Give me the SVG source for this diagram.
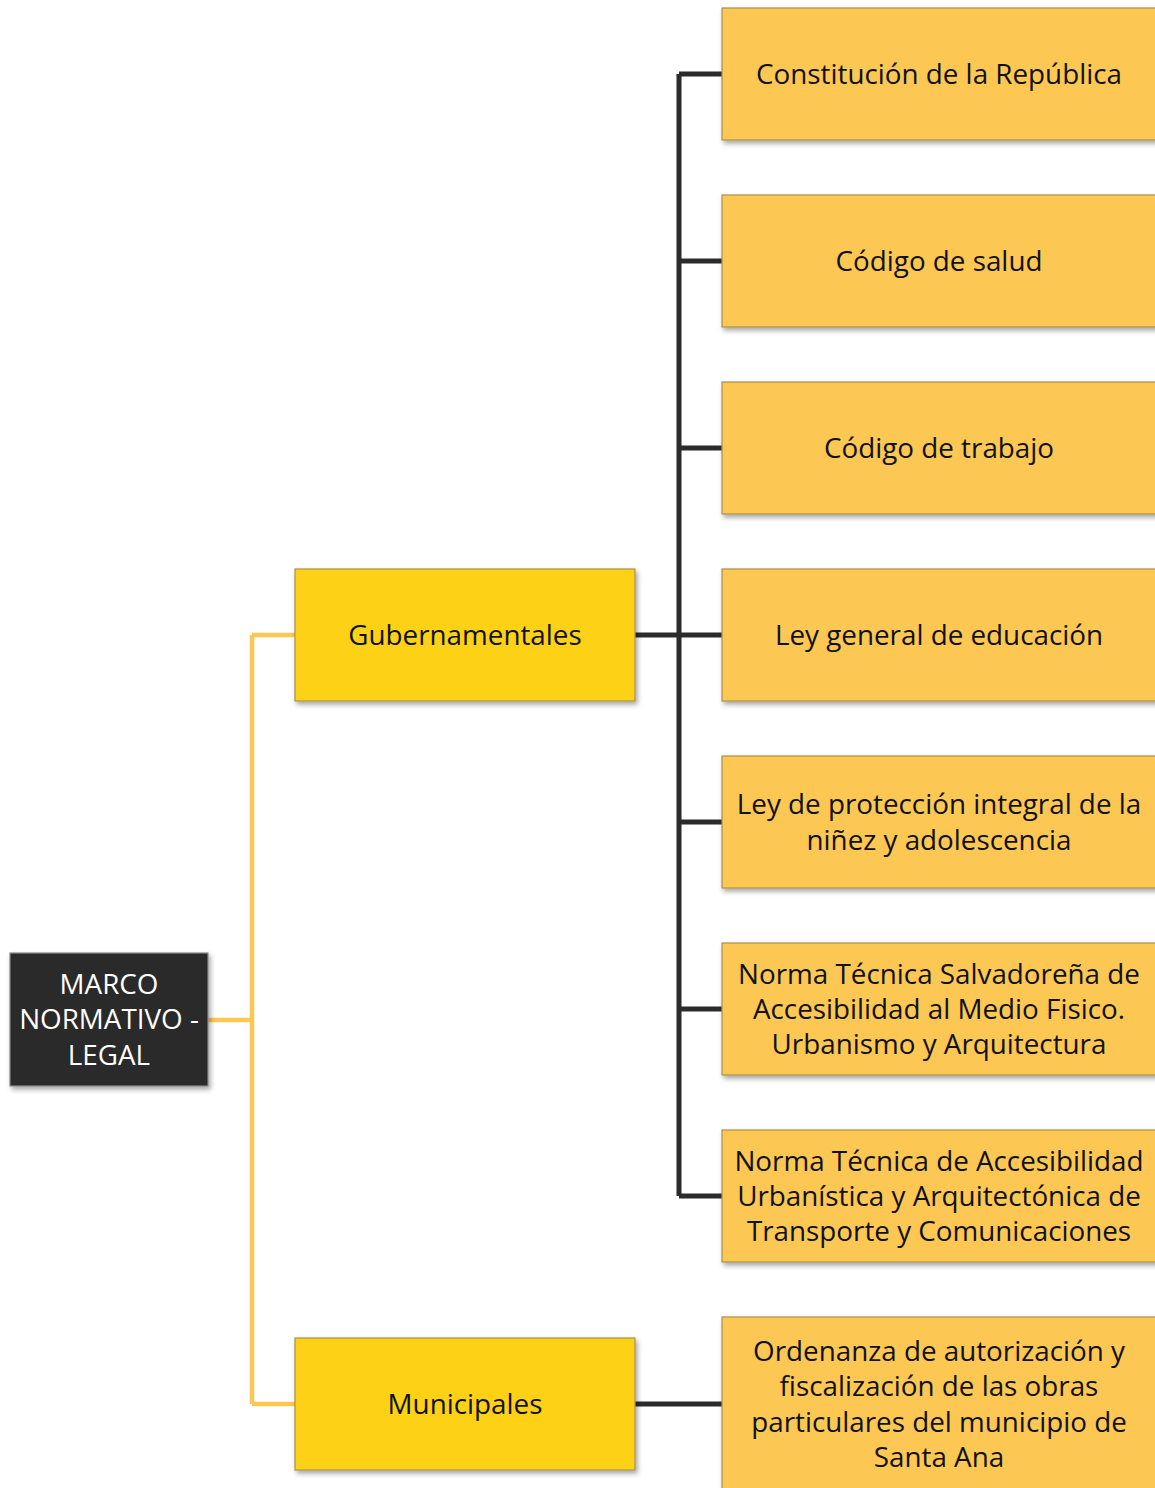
<svg xmlns="http://www.w3.org/2000/svg" width="1155" height="1488" viewBox="0 0 1155 1488">
<defs>
<filter id="sh" x="-10%" y="-10%" width="130%" height="130%">
<feDropShadow dx="2" dy="3" stdDeviation="2.5" flood-color="#000" flood-opacity="0.35"/>
</filter>
<style>
.leaf{fill:#fcc753;stroke:#a8914e;stroke-width:1.2;filter:url(#sh)}
.mid{fill:#fdd116;stroke:#a8914e;stroke-width:1.2;filter:url(#sh)}
.root{fill:#2b2b2b;stroke:#888;stroke-width:1.2;filter:url(#sh)}
text{font-family:"Open Sans","Noto Sans",sans-serif;font-size:27.8px;text-anchor:middle;fill:#111}
.rt{fill:#fff}
.yl{fill:none;stroke:#fcc752;stroke-width:4.5}
.dk{fill:none;stroke:#2b2b2b;stroke-width:5}
</style>
</defs>
<g id="connectors">
<path class="yl" d="M208 1020 H252 M252 635 V1404 M252 635 H295 M252 1404 H295"/>
<path class="dk" d="M635 635 H722 M679 74 V1196 M679 74 H722 M679 261 H722 M679 448 H722 M679 822 H722 M679 1009 H722 M679 1196 H722 M635 1404 H722"/>
</g>
<g id="root">
<rect class="root" x="10" y="953" width="198" height="133"/>
<text class="rt" x="109" y="994">MARCO</text>
<text class="rt" x="109" y="1029">NORMATIVO -</text>
<text class="rt" x="109" y="1065">LEGAL</text>
</g>
<g id="gubernamentales">
<rect class="mid" x="295" y="569" width="340" height="132"/>
<text x="465" y="645">Gubernamentales</text>
</g>
<g id="municipales">
<rect class="mid" x="295" y="1338" width="340" height="132"/>
<text x="465" y="1414">Municipales</text>
</g>
<g id="constitucion">
<rect class="leaf" x="722" y="8" width="440" height="132"/>
<text x="939" y="84">Constitución de la República</text>
</g>
<g id="codigo-salud">
<rect class="leaf" x="722" y="195" width="440" height="132"/>
<text x="939" y="271">Código de salud</text>
</g>
<g id="codigo-trabajo">
<rect class="leaf" x="722" y="382" width="440" height="132"/>
<text x="939" y="458">Código de trabajo</text>
</g>
<g id="ley-educacion">
<rect class="leaf" x="722" y="569" width="440" height="132"/>
<text x="939" y="645">Ley general de educación</text>
</g>
<g id="ley-ninez">
<rect class="leaf" x="722" y="756" width="440" height="132"/>
<text x="939" y="814">Ley de protección integral de la</text>
<text x="939" y="850">niñez y adolescencia</text>
</g>
<g id="norma-salvadorena">
<rect class="leaf" x="722" y="943" width="440" height="132"/>
<text x="939" y="984">Norma Técnica Salvadoreña de</text>
<text x="939" y="1019">Accesibilidad al Medio Fisico.</text>
<text x="939" y="1054">Urbanismo y Arquitectura</text>
</g>
<g id="norma-transporte">
<rect class="leaf" x="722" y="1130" width="440" height="132"/>
<text x="939" y="1171">Norma Técnica de Accesibilidad</text>
<text x="939" y="1206">Urbanística y Arquitectónica de</text>
<text x="939" y="1241">Transporte y Comunicaciones</text>
</g>
<g id="ordenanza">
<rect class="leaf" x="722" y="1317" width="440" height="180"/>
<text x="939" y="1361">Ordenanza de autorización y</text>
<text x="939" y="1396">fiscalización de las obras</text>
<text x="939" y="1432">particulares del municipio de</text>
<text x="939" y="1467">Santa Ana</text>
</g>
</svg>
